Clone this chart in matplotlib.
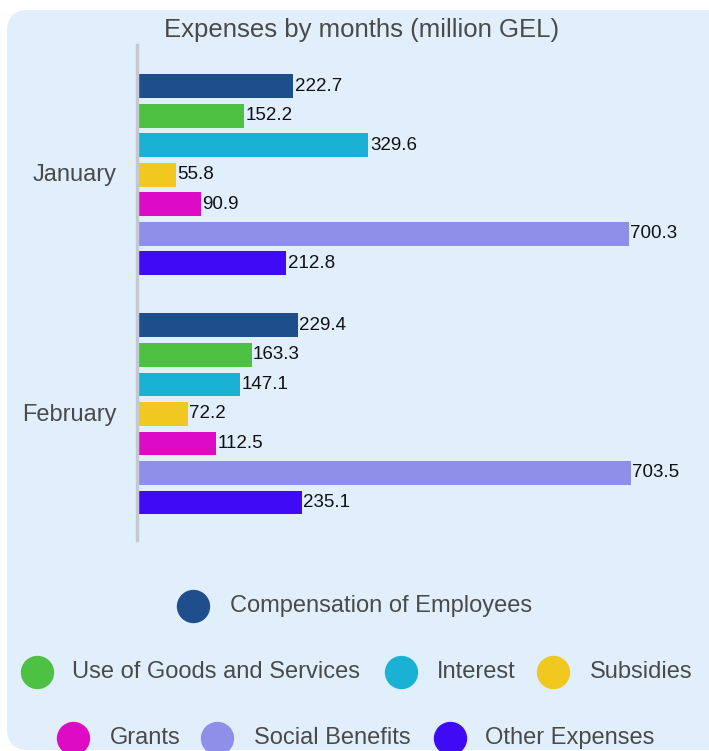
import numpy as np
import matplotlib.pyplot as plt
from matplotlib.patches import FancyBboxPatch
from matplotlib.lines import Line2D

plt.rcParams['font.family'] = ['Liberation Sans', 'DejaVu Sans']

months = ['January', 'February']
series = ['Compensation of Employees', 'Use of Goods and Services', 'Interest',
          'Subsidies', 'Grants', 'Social Benefits', 'Other Expenses']
values = [
    [222.7, 229.4],
    [152.2, 163.3],
    [329.6, 147.1],
    [55.8, 72.2],
    [90.9, 112.5],
    [700.3, 703.5],
    [212.8, 235.1],
]
colors = ['#1f4e8c', '#4cc142', '#1ab2d4', '#f0c820', '#dd0cc4', '#8d8fe8', '#3f0af5']

W, H = 709, 751
fig = plt.figure(figsize=(W / 100, H / 100), dpi=100)
fig.patch.set_facecolor('white')

# rounded light-blue card
card = FancyBboxPatch((7 / W, 1 - 750 / H), 720 / W, 740 / H,
                      boxstyle='round,pad=0,rounding_size=0.03',
                      transform=fig.transFigure, facecolor='#e1effd',
                      edgecolor='none', zorder=0, mutation_aspect=W / H)
fig.add_artist(card)

# axes placement in pixels
left, right, top, bottom = 137, 703, 45, 540
ax = fig.add_axes([left / W, 1 - bottom / H, (right - left) / W, (bottom - top) / H])
ax.patch.set_alpha(0)

step = 0.1234
bh = 0.100
y = np.arange(len(months))
for i, (name, vals) in enumerate(zip(series, values)):
    pos = y + (i - 3) * step + 0.008
    ax.barh(pos, vals, height=bh, color=colors[i], label=name, zorder=2)
    for p, v in zip(pos, vals):
        ax.text(v + 2, p, f'{v}', va='center', ha='left', fontsize=13.5, color='#111111')

ax.set_xlim(0, 806)
ax.set_ylim(1.535, -0.535)
ax.set_yticks(y)
ax.set_yticklabels(months, fontsize=17, color='#4a4a4a')
ax.tick_params(axis='y', length=0, pad=15)
ax.set_xticks([])
for s in ['top', 'right', 'bottom']:
    ax.spines[s].set_visible(False)
ax.spines['left'].set_color('#c4c9d2')
ax.spines['left'].set_linewidth(2.5)

fig.text(362 / W, 1 - 30 / H, 'Expenses by months (million GEL)', ha='center', va='center',
         fontsize=18.5, color='#4a4a4a')

# legend rows laid out like the original (circle x, text x, row y)
legend_pos = [
    (193, 230, 606),
    (37, 72, 672), (401, 437, 672), (553, 590, 672),
    (73, 110, 738), (217, 254, 738), (450, 485, 738),
]
for (cx, tx, ry), name, c in zip(legend_pos, series, colors):
    fig.add_artist(Line2D([cx / W], [1 - ry / H], marker='o', markersize=23,
                          color=c, linestyle='none', transform=fig.transFigure))
    fig.text(tx / W, 1 - ry / H, name, ha='left', va='center', fontsize=17, color='#4a4a4a')

fig.savefig('out.png', dpi=100)
